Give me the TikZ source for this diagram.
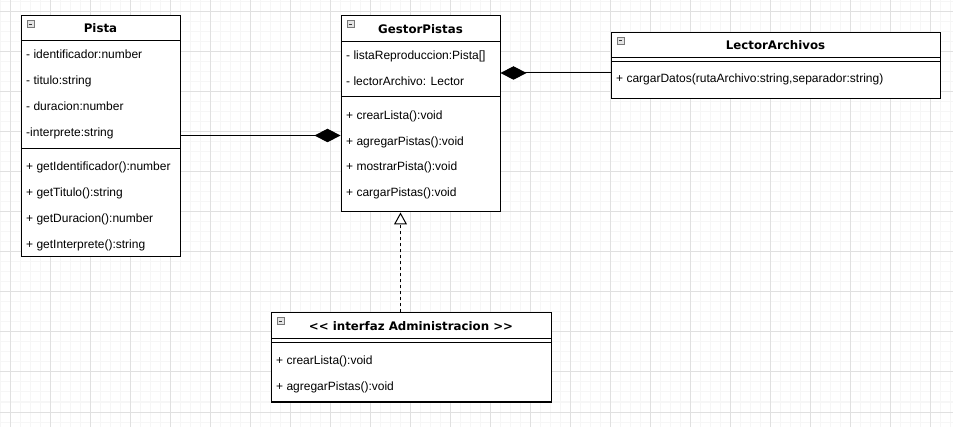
\documentclass[tikz,border=0pt]{standalone}
\usepackage{fontspec}
\setmainfont{Liberation Sans}
\newfontfamily\titlefont{DejaVu Sans}
\usetikzlibrary{arrows.meta, positioning}

\definecolor{gridminor}{RGB}{246,246,246}
\definecolor{gridmajor}{RGB}{224,224,224}
\definecolor{iconfill}{RGB}{228,228,228}
\definecolor{iconline}{RGB}{120,120,120}

\begin{document}
\begin{tikzpicture}[x=1pt, y=-1pt,
    every node/.style={font=\fontsize{12}{14}\selectfont},
    classhead/.style={draw, rectangle, fill=white, line width=1pt, inner sep=0pt, text height=8.6pt, text depth=0pt, font=\titlefont\bfseries\fontsize{11.8}{14}\selectfont},
    compart/.style={draw, rectangle, fill=white, line width=1pt, inner sep=0pt},
    member/.style={anchor=base west, inner sep=0pt},
    icon/.style={draw=iconline, fill=iconfill, line width=0.8pt, rectangle, anchor=north west, minimum size=7pt, inner sep=0pt,
        path picture={\draw[line width=1pt, black!80] ([xshift=1.6pt]path picture bounding box.west) -- ([xshift=-1.6pt]path picture bounding box.east);}},
    compo/.style={-{Diamond[length=26pt, width=13.5pt]}, line width=1pt},
    realize/.style={-{Triangle[open, length=12pt, width=13pt, fill=white]}, dash pattern=on 3pt off 3pt, line width=1pt}
]
    \useasboundingbox (0,0) rectangle (953,427);
    \fill[white] (0,0) rectangle (953,427);

    % background grid
    \foreach \gx in {0,10,...,950} \draw[gridminor, line width=1pt] (\gx,0) -- (\gx,427);
    \foreach \gy in {2,12,...,422} \draw[gridminor, line width=1pt] (0,\gy) -- (953,\gy);
    \foreach \gx in {10,50,...,930} \draw[gridmajor, line width=1pt] (\gx,0) -- (\gx,427);
    \foreach \gy in {12,52,...,412} \draw[gridmajor, line width=1pt] (0,\gy) -- (953,\gy);

    % Class: Pista
    \node[classhead, minimum width=159pt, minimum height=25pt] (pistaH) at (100.5, 28.5) {Pista};
    \node[compart, minimum width=159pt, minimum height=108pt] (pistaA) at (100.5, 95) {};
    \node[compart, minimum width=159pt, minimum height=108pt] (pistaM) at (100.5, 203) {};
    \node[icon] (pistaIco) at ([shift={(6,5)}]pistaH.north west) {};
    \node[member] (pistaA1) at (26, 58.5) {- identificador:number};
    \node[member] (pistaA2) at (26, 84.5) {- titulo:string};
    \node[member] (pistaA3) at (26, 110.5) {- duracion:number};
    \node[member] (pistaA4) at (26, 136.5) {-interprete:string};
    \node[member] (pistaM1) at (26, 170.5) {+ getIdentificador():number};
    \node[member] (pistaM2) at (26, 196.5) {+ getTitulo():string};
    \node[member] (pistaM3) at (26, 222.5) {+ getDuracion():number};
    \node[member] (pistaM4) at (26, 248.5) {+ getInterprete():string};

    % Class: GestorPistas
    \node[classhead, minimum width=159pt, minimum height=26pt] (gestorH) at (420.5, 29) {GestorPistas};
    \node[compart, minimum width=159pt, minimum height=55pt] (gestorA) at (420.5, 69.5) {};
    \node[compart, minimum width=159pt, minimum height=115pt] (gestorM) at (420.5, 154.5) {};
    \node[icon] (gestorIco) at ([shift={(6,5)}]gestorH.north west) {};
    \node[member] (gestorA1) at (346, 59.5) {- listaReproduccion:Pista[]};
    \node[member] (gestorA2) at (346, 85.5) {- lectorArchivo: Lector};
    \node[member] (gestorM1) at (346, 119.5) {+ crearLista():void};
    \node[member] (gestorM2) at (346, 145.5) {+ agregarPistas():void};
    \node[member] (gestorM3) at (346, 171) {+ mostrarPista():void};
    \node[member] (gestorM4) at (346, 197) {+ cargarPistas():void};

    % Class: LectorArchivos
    \node[classhead, minimum width=329pt, minimum height=25.5pt] (lectorH) at (775.5, 45.25) {LectorArchivos};
    \node[compart, minimum width=329pt, minimum height=3.5pt] (lectorA) at (775.5, 59.75) {};
    \node[compart, minimum width=329pt, minimum height=37pt] (lectorM) at (775.5, 80) {};
    \node[icon] (lectorIco) at ([shift={(6,5)}]lectorH.north west) {};
    \node[member] (lectorM1) at (616, 83) {+ cargarDatos(rutaArchivo:string,separador:string)};

    % Interface: Administracion
    \node[classhead, minimum width=280pt, minimum height=26pt] (adminH) at (411, 326) {<< interfaz Administracion >>};
    \node[compart, minimum width=280pt, minimum height=4pt] (adminA) at (411, 341) {};
    \node[compart, minimum width=280pt, minimum height=59pt] (adminM) at (411, 372.5) {};
    \node[icon] (adminIco) at ([shift={(6,5)}]adminH.north west) {};
    \node[member] (adminM1) at (276, 364.5) {+ crearLista():void};
    \node[member] (adminM2) at (276, 390.5) {+ agregarPistas():void};

    % Relations
    \draw [compo] (pistaA.east |- 0,135.5) -- (gestorM.west |- 0,135.5);
    \draw [compo] (lectorM.west |- 0,73) -- (gestorA.east |- 0,73);
    \draw [realize] (adminH.north -| 400.5,0) -- (gestorM.south -| 400.5,0);

\end{tikzpicture}
\end{document}
